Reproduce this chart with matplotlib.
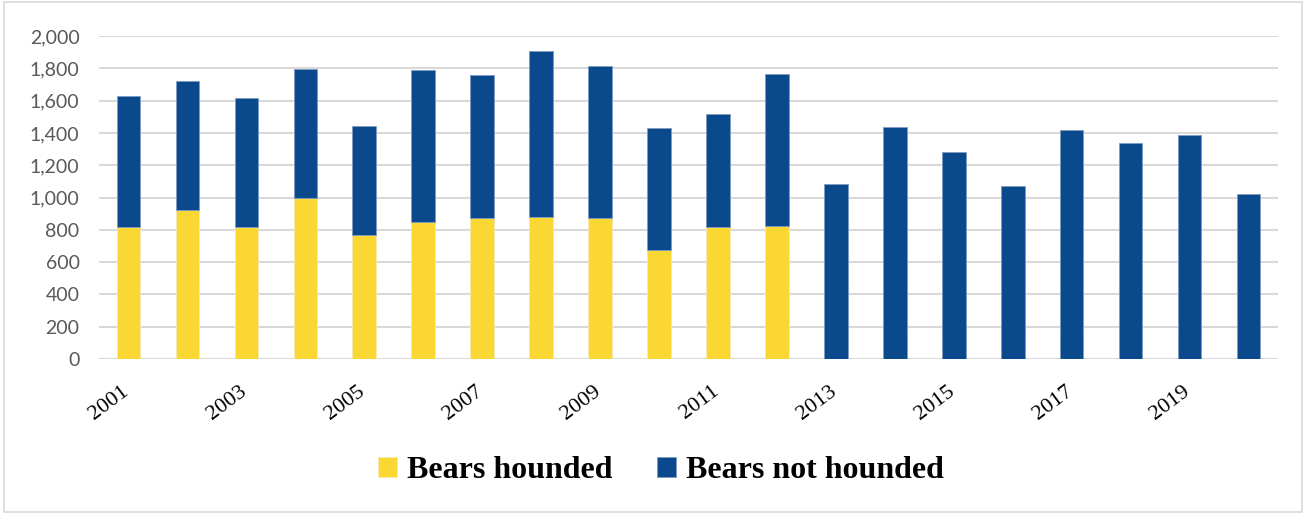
import matplotlib
matplotlib.use("Agg")
import matplotlib.pyplot as plt
import matplotlib.transforms as mtransforms
from matplotlib.patches import Rectangle
import numpy as np

# Data
years = list(range(2001, 2021))
hounded = [815, 922, 819, 995, 768, 846, 871, 879, 875, 675, 819, 823,
           0, 0, 0, 0, 0, 0, 0, 0]
totals = [1630, 1719, 1614, 1796, 1445, 1792, 1759, 1905, 1814, 1428,
          1519, 1763, 1084, 1434, 1284, 1069, 1416, 1340, 1385, 1024]
not_hounded = [t - h for t, h in zip(totals, hounded)]
yticks = [0, 200, 400, 600, 800, 1000, 1200, 1400, 1600, 1800, 2000]

yellow = "#FBD733"
blue = "#0A4A8C"

fig = plt.figure(figsize=(13.06, 5.14), dpi=100)
ax = fig.add_axes([99 / 1306, 1 - 359 / 514, (1278 - 99) / 1306, (359 - 36) / 514])

x = np.arange(len(years))
ax.bar(x, hounded, width=0.4, color=yellow, edgecolor="#F5E9B0", linewidth=0.6,
       label="Bears hounded", zorder=3)
ax.bar(x, not_hounded, bottom=hounded, width=0.4, color=blue, edgecolor="#7F9CC4",
       linewidth=0.6, label="Bears not hounded", zorder=3)

ax.set_xlim(-0.5, len(years) - 0.5)
ax.set_ylim(0, 2000)
ax.set_yticks(yticks)
ax.set_yticklabels([f"{v:,}" for v in yticks], fontsize=14, color="#595959",
                   family="Lato")
ax.yaxis.grid(True, color="#D9D9D9", linewidth=1.5, zorder=0)
ax.tick_params(axis="both", length=0)
ax.tick_params(axis="y", pad=14)
for s in ax.spines.values():
    s.set_visible(False)

ax.set_xticks(x[::2])
ax.set_xticklabels([str(y) for y in years[::2]], rotation=37, ha="right",
                   rotation_mode="anchor", fontsize=16, family="Liberation Serif",
                   color="black")
offset = mtransforms.ScaledTranslation(-0.07, -0.18, fig.dpi_scale_trans)
for lab in ax.get_xticklabels():
    lab.set_transform(lab.get_transform() + offset)

leg = fig.legend(loc="center", bbox_to_anchor=(0.506, 1 - 471 / 514), ncol=2,
                 frameon=False, handlelength=0.6, handleheight=0.6,
                 handletextpad=0.3, columnspacing=1.4,
                 prop={"family": "Liberation Serif", "size": 23, "weight": "bold"})

fig.patches.append(Rectangle((0.003, 0.003), 0.994, 0.994, transform=fig.transFigure,
                             fill=False, edgecolor="#D9D9D9", linewidth=1.2))

fig.savefig("out.png", dpi=100, facecolor="white")
